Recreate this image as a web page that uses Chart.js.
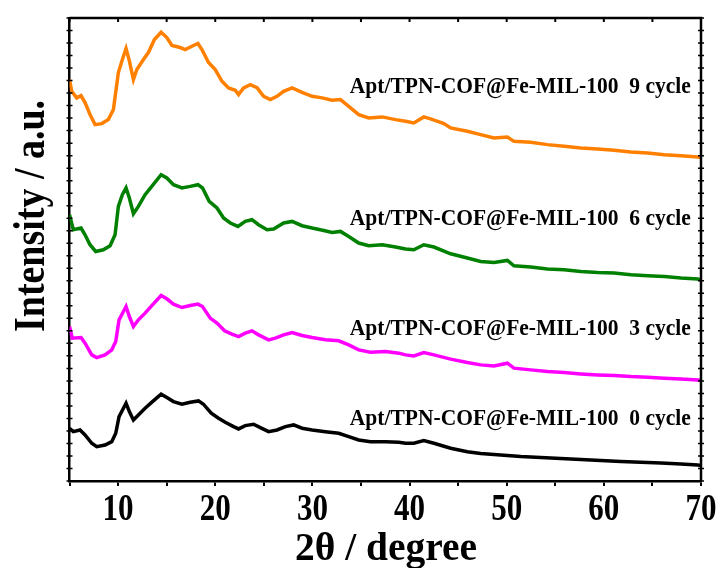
<!DOCTYPE html>
<html>
<head>
<meta charset="utf-8">
<script src="https://cdn.jsdelivr.net/npm/chart.js@4/dist/chart.umd.min.js"></script>
<style>
  body { margin: 0; background: #fff; }
  #wrap { width: 717px; height: 568px; }
</style>
</head>
<body>
<div id="wrap"><canvas id="xrd" width="717" height="568"></canvas></div>
<script>
// 2theta (degree) and intensity (a.u., curves already stacked)
const x9 = [5.0, 5.23, 5.74, 6.19, 6.60, 7.11, 7.63, 8.32, 9.00, 9.52, 10.03, 10.44, 10.82, 11.13, 11.58, 11.93, 12.61, 13.12, 13.74, 14.43, 15.02, 15.54, 16.39, 16.91, 17.60, 18.22, 18.63, 19.31, 20.00, 20.69, 21.37, 22.06, 22.40, 22.92, 23.61, 24.30, 24.98, 25.67, 26.36, 27.04, 27.91, 28.94, 29.97, 31.00, 32.03, 32.89, 33.74, 34.77, 35.80, 37.19, 38.56, 39.59, 40.44, 41.47, 42.16, 43.54, 44.23, 45.95, 47.32, 48.69, 50.07, 50.75, 52.47, 54.20, 55.91, 57.63, 59.35, 61.06, 62.78, 64.51, 66.22, 67.94, 69.66, 70.0];
const y9 = [401, 389.3, 382.7, 385, 378, 366, 356, 357, 361, 371, 408, 421, 432, 421, 401, 411, 421, 428, 441, 448.3, 443, 435, 433, 431, 434.3, 437, 431, 418, 411, 399.3, 392.7, 390.3, 386, 392.7, 396, 393, 384.3, 381, 384.3, 389.3, 392.7, 388.3, 384.3, 382.7, 380.3, 381, 374.3, 366, 362.7, 363.7, 361, 359.3, 357.7, 363.7, 361.7, 357, 352.7, 349.3, 346, 342.7, 343.7, 339.3, 338.3, 336, 334.3, 332.7, 331.7, 330.3, 328.7, 327.7, 326, 325, 323.7, 323];

const x6 = [5.0, 5.39, 6.19, 6.60, 7.11, 7.70, 8.48, 9.18, 9.69, 10.03, 10.44, 10.82, 11.16, 11.58, 12.09, 12.78, 13.47, 14.43, 15.02, 15.70, 16.57, 17.42, 18.22, 18.69, 19.38, 20.18, 20.86, 21.55, 22.34, 23.09, 23.78, 24.46, 25.33, 26.01, 27.04, 27.91, 28.94, 29.97, 31.17, 32.03, 32.89, 33.74, 34.77, 35.80, 37.19, 38.56, 39.59, 40.44, 41.47, 42.51, 44.23, 45.95, 47.32, 48.69, 50.07, 50.75, 52.47, 54.20, 55.91, 57.63, 59.35, 61.06, 62.78, 64.51, 66.22, 67.94, 69.66, 70.0];
const y6 = [266, 251, 252.7, 246, 236, 229.3, 231, 235, 246, 274.3, 286, 292.7, 282.7, 267, 274.3, 286, 294.3, 306, 302.7, 296, 292.7, 294.3, 296, 292.7, 279.3, 272.7, 262.7, 257.7, 254.3, 259.3, 261, 256, 251, 251.7, 257.7, 259.3, 255, 252.7, 250.3, 248.3, 249.3, 244.3, 237.7, 235, 236, 233.7, 231.7, 231, 236, 233.7, 227, 222.7, 219.3, 218.3, 220.3, 215, 213.7, 211.7, 211, 209.3, 208.3, 207.7, 206, 205, 204.3, 202.7, 201.7, 201];

const x3 = [5.0, 5.29, 6.19, 6.60, 7.29, 7.80, 8.66, 9.35, 9.76, 10.10, 10.55, 10.82, 11.16, 11.58, 12.09, 12.78, 13.54, 14.43, 15.02, 15.70, 16.57, 17.42, 18.22, 18.69, 19.48, 20.18, 20.96, 21.72, 22.40, 23.09, 23.78, 24.46, 25.49, 26.19, 27.04, 27.91, 28.94, 29.97, 31.34, 32.71, 33.74, 34.77, 35.98, 37.53, 38.90, 39.59, 40.44, 41.47, 42.51, 44.23, 45.95, 47.32, 48.69, 50.07, 50.75, 52.47, 54.20, 55.91, 57.63, 59.35, 61.06, 62.78, 64.51, 66.22, 67.94, 69.66, 70.0];
const y3 = [154.3, 142.7, 143.3, 137.7, 126, 123.3, 126, 131, 139.3, 161, 169.3, 174.3, 164.3, 154.3, 161, 167.7, 176, 185.3, 182, 176.7, 173.3, 175.3, 176.7, 174.3, 162.7, 157.7, 150, 146.7, 144.3, 147.7, 150, 146, 141, 142.7, 146, 148.3, 145.3, 143.3, 141, 140, 136, 131, 128.7, 129.3, 127.7, 126, 125, 128.3, 126, 121.7, 118.3, 116, 115, 117.7, 112.7, 111, 109.3, 108.3, 107, 106, 105.3, 104.3, 103.7, 102.7, 102, 101, 100.5];

const x0 = [5.0, 5.39, 6.08, 6.60, 7.29, 7.80, 8.66, 9.35, 9.76, 10.10, 10.55, 10.82, 11.16, 11.58, 12.09, 12.78, 13.54, 14.43, 15.02, 15.70, 16.57, 17.42, 18.28, 18.79, 19.59, 20.34, 21.03, 21.89, 22.40, 23.09, 23.95, 24.64, 25.49, 26.36, 27.22, 28.07, 28.94, 29.97, 31.34, 32.71, 33.74, 34.77, 35.98, 37.53, 38.90, 39.59, 40.44, 41.47, 42.51, 44.23, 45.95, 47.32, 49.38, 51.44, 53.51, 55.57, 57.63, 59.69, 61.75, 63.81, 65.88, 67.94, 69.66, 70.0];
const y0 = [52.7, 49.3, 51, 46, 37.7, 34.3, 36, 39.3, 47.7, 64.3, 72.7, 77.7, 69.3, 61, 66, 72.7, 79.3, 86.7, 83.3, 79.3, 76.7, 78.7, 80, 76.7, 67.7, 62.7, 58.7, 54.3, 52, 55.3, 56.7, 53.3, 49.3, 51, 54.3, 56, 52.7, 51, 49.3, 47.7, 44.3, 41, 39.3, 39.3, 38.7, 37.7, 37.7, 40.3, 37.7, 32.7, 29.3, 27.5, 26, 24.5, 23.5, 22.5, 21.5, 20.5, 19.5, 18.7, 18, 17, 16, 15.5];

const seriesNames = ['9 cycle', '6 cycle', '3 cycle', '0 cycle'];
const seriesColors = ['#FF8000', '#008000', '#FF00FF', '#000000'];
const xTickLabels = [10, 20, 30, 40, 50, 60, 70];

const FONT = "'Liberation Serif', 'Times New Roman', serif";

function toPoints(xs, ys) {
    return xs.map((v, i) => ({x: v, y: ys[i]}));
}

const allX = [x9, x6, x3, x0];
const allY = [y9, y6, y3, y0];

// label anchors: right end (2theta) and baseline (a.u.)
const labelAnchors = [[68.95, 387.7], [68.95, 256], [68.95, 146], [68.95, 56]];

// frame, inner ticks and all the text (drawn narrow like the original)
const framePlugin = {
    id: 'frame',
    afterDraw(chart) {
        const {ctx, chartArea: a, scales} = chart;
        ctx.save();
        ctx.strokeStyle = '#000';
        ctx.lineWidth = 2.5;
        ctx.beginPath();
        ctx.moveTo(a.left, a.top);
        ctx.lineTo(a.right, a.top);
        ctx.lineTo(a.right, a.bottom);
        ctx.stroke();

        ctx.lineWidth = 2;
        scales.x.ticks.forEach(t => {
            const px = scales.x.getPixelForValue(t.value);
            ctx.beginPath();
            ctx.moveTo(px, a.top);
            ctx.lineTo(px, a.top + 4);
            ctx.stroke();
        });
        ctx.lineWidth = 1.5;
        scales.y.ticks.forEach(t => {
            const py = scales.y.getPixelForValue(t.value);
            ctx.beginPath();
            ctx.moveTo(a.left - 3, py);
            ctx.lineTo(a.left + 3, py);
            ctx.moveTo(a.right - 3, py);
            ctx.lineTo(a.right + 3, py);
            ctx.stroke();
        });

        ctx.fillStyle = '#000';

        // x tick labels
        ctx.font = 'bold 37px ' + FONT;
        ctx.textAlign = 'center';
        ctx.textBaseline = 'alphabetic';
        xTickLabels.forEach(v => {
            ctx.fillText(String(v), scales.x.getPixelForValue(v), 520, 31);
        });

        // x title
        ctx.font = 'bold 40px ' + FONT;
        ctx.fillText('2θ / degree', 386, 560, 182);

        // y title
        ctx.save();
        ctx.translate(43.5, 216);
        ctx.rotate(-Math.PI / 2);
        ctx.font = 'bold 45px ' + FONT;
        ctx.fillText('Intensity / a.u.', 0, 0, 232);
        ctx.restore();

        // curve labels
        ctx.font = 'bold 23px ' + FONT;
        ctx.textAlign = 'right';
        seriesNames.forEach((n, i) => {
            const px = scales.x.getPixelForValue(labelAnchors[i][0]);
            const py = scales.y.getPixelForValue(labelAnchors[i][1]);
            ctx.fillText('Apt/TPN-COF@Fe-MIL-100  ' + n, px, py, 341);
        });
        ctx.restore();
    }
};

const ctx = document.getElementById('xrd');
new Chart(ctx, {
    type: 'line',
    data: {
        datasets: seriesNames.map((n, i) => ({
            label: n,
            data: toPoints(allX[i], allY[i]),
            borderColor: seriesColors[i],
            borderWidth: 3.5,
            pointRadius: 0,
            tension: 0,
            fill: false
        }))
    },
    options: {
        responsive: false,
        animation: false,
        layout: {padding: {top: 18, right: 16, left: 0, bottom: 0}},
        plugins: {legend: {display: false}, tooltip: {enabled: false}},
        scales: {
            x: {
                type: 'linear',
                min: 5,
                max: 70,
                afterFit: s => { s.height = 87; },
                border: {color: '#000', width: 2.5},
                grid: {drawOnChartArea: false, color: '#000', tickColor: '#000', tickLength: 5, lineWidth: 2},
                ticks: {stepSize: 5, display: false, autoSkip: false}
            },
            y: {
                min: 0,
                max: 462.5,
                afterFit: s => { s.width = 69.5; },
                border: {color: '#000', width: 2.5},
                grid: {drawOnChartArea: false, drawTicks: false},
                ticks: {stepSize: 12.5, display: false}
            }
        }
    },
    plugins: [framePlugin]
});
</script>
</body>
</html>
